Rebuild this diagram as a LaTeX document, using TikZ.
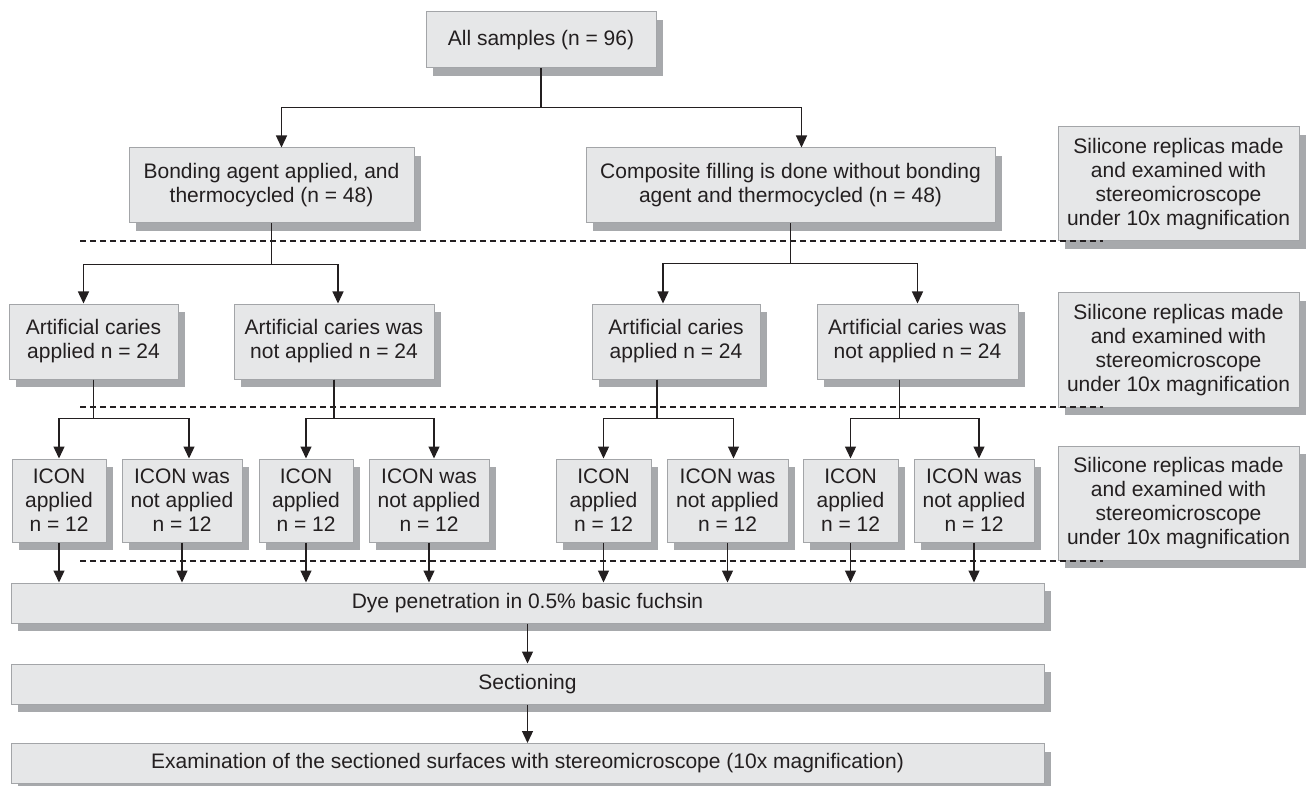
\documentclass[tikz,border=0pt]{standalone}
\usepackage{fontspec}
\setmainfont{Liberation Sans}
\usetikzlibrary{arrows.meta,shadows}
\definecolor{box_fill}{HTML}{E6E7E8}
\definecolor{box_line}{HTML}{A3A5A8}
\definecolor{box_shadow}{HTML}{A7A9AC}
\definecolor{ink}{HTML}{231F20}

\tikzset{
  box/.style={draw=box_line, line width=1pt, fill=box_fill, text=ink, align=center,
    inner sep=2pt, font=\fontsize{21}{24}\selectfont,
    general shadow={fill=box_shadow, shadow xshift=7pt, shadow yshift=-8pt}},
  levelbox/.style={box, minimum height=75pt},
  iconbox/.style={box, minimum height=83pt},
  silbox/.style={box, minimum width=241pt, minimum height=114pt},
  stagebox/.style={box, minimum width=1033pt, minimum height=40pt},
  link/.style={draw=ink, line width=1.3pt, -{Triangle[length=12pt,width=11pt]}},
  guide/.style={draw=ink, line width=1.1pt, dash pattern=on 6pt off 4pt},
}

\begin{document}
\begin{tikzpicture}[x=1pt, y=-1pt]
        \useasboundingbox (0,0) rectangle (1306,786);
        % Start
        \node[box, minimum width=230pt, minimum height=56pt] (root) at (541,40) {All samples (n = 96)};
        % First split
        \node[levelbox, minimum width=285pt] (bond) at (271.5,185.5) {Bonding agent applied, and\\thermocycled (n = 48)};
        \node[levelbox, minimum width=409pt] (comp) at (790.5,185.5) {Composite filling is done without bonding\\agent and thermocycled (n = 48)};
        % Second split
        \node[levelbox, minimum width=169pt] (cariesA) at (93.5,341.5) {Artificial caries\\applied n = 24};
        \node[levelbox, minimum width=200pt] (cariesB) at (334,341.5) {Artificial caries was\\not applied n = 24};
        \node[levelbox, minimum width=168pt] (cariesC) at (676,341.5) {Artificial caries\\applied n = 24};
        \node[levelbox, minimum width=201pt] (cariesD) at (917.5,341.5) {Artificial caries was\\not applied n = 24};
        % Third split
        \node[iconbox, minimum width=94pt] (iconA1) at (59,500.5) {ICON\\applied\\n = 12};
        \node[iconbox, minimum width=120pt] (iconB1) at (182,500.5) {ICON was\\not applied\\n = 12};
        \node[iconbox, minimum width=94pt] (iconA2) at (306,500.5) {ICON\\applied\\n = 12};
        \node[iconbox, minimum width=120pt] (iconB2) at (429,500.5) {ICON was\\not applied\\n = 12};
        \node[iconbox, minimum width=95pt] (iconA3) at (603.5,500.5) {ICON\\applied\\n = 12};
        \node[iconbox, minimum width=121pt] (iconB3) at (727.5,500.5) {ICON was\\not applied\\n = 12};
        \node[iconbox, minimum width=95pt] (iconA4) at (850.5,500.5) {ICON\\applied\\n = 12};
        \node[iconbox, minimum width=120pt] (iconB4) at (974,500.5) {ICON was\\not applied\\n = 12};
        % Silicone replica checks
        \node[silbox] (sil1) at (1178.5,184) {Silicone replicas made\\and examined with\\stereomicroscope\\under 10x magnification};
        \node[silbox] (sil2) at (1178.5,350) {Silicone replicas made\\and examined with\\stereomicroscope\\under 10x magnification};
        \node[silbox] (sil3) at (1178.5,503) {Silicone replicas made\\and examined with\\stereomicroscope\\under 10x magnification};
        % Final stages
        \node[stagebox] (dye) at (527.5,603) {Dye penetration in 0.5\% basic fuchsin};
        \node[stagebox] (sect) at (527.5,684) {Sectioning};
        \node[stagebox] (exam) at (527.5,763.5) {Examination of the sectioned surfaces with stereomicroscope (10x magnification)};
        % Dashed check lines
        \draw[guide] (80,241) -- (1103,241);
        \draw[guide] (80,407) -- (1103,407);
        \draw[guide] (80,561) -- (1103,561);
        % Connectors
        \draw[link] (root.south) -- ++(0,39) -| ([xshift=10pt]bond.north);
        \draw[link] (root.south) -- ++(0,39) -| ([xshift=11pt]comp.north);
        \draw[link] (bond.south) -- ++(0,41) -| ([xshift=-10pt]cariesA.north);
        \draw[link] (bond.south) -- ++(0,41) -| ([xshift=4pt]cariesB.north);
        \draw[link] (comp.south) -- ++(0,40) -| ([xshift=-13pt]cariesC.north);
        \draw[link] (comp.south) -- ++(0,40) -| (cariesD.north);
        \draw[link] (cariesA.south) -- ++(0,39) -| (iconA1.north);
        \draw[link] (cariesA.south) -- ++(0,39) -| ([xshift=7pt]iconB1.north);
        \draw[link] (cariesB.south) -- ++(0,39) -| (iconA2.north);
        \draw[link] (cariesB.south) -- ++(0,39) -| ([xshift=5pt]iconB2.north);
        \draw[link] ([xshift=-19pt]cariesC.south) -- ++(0,39) -| (iconA3.north);
        \draw[link] ([xshift=-19pt]cariesC.south) -- ++(0,39) -| ([xshift=6pt]iconB3.north);
        \draw[link] ([xshift=-18pt]cariesD.south) -- ++(0,39) -| (iconA4.north);
        \draw[link] ([xshift=-18pt]cariesD.south) -- ++(0,39) -| ([xshift=5pt]iconB4.north);
        \draw[link] (iconA1.south) -- (iconA1.south |- dye.north);
        \draw[link] (iconB1.south) -- (iconB1.south |- dye.north);
        \draw[link] (iconA2.south) -- (iconA2.south |- dye.north);
        \draw[link] (iconB2.south) -- (iconB2.south |- dye.north);
        \draw[link] (iconA3.south) -- (iconA3.south |- dye.north);
        \draw[link] (iconB3.south) -- (iconB3.south |- dye.north);
        \draw[link] (iconA4.south) -- (iconA4.south |- dye.north);
        \draw[link] (iconB4.south) -- (iconB4.south |- dye.north);
        \draw[link] (dye.south) -- (sect.north);
        \draw[link] (sect.south) -- (exam.north);
\end{tikzpicture}
\end{document}
